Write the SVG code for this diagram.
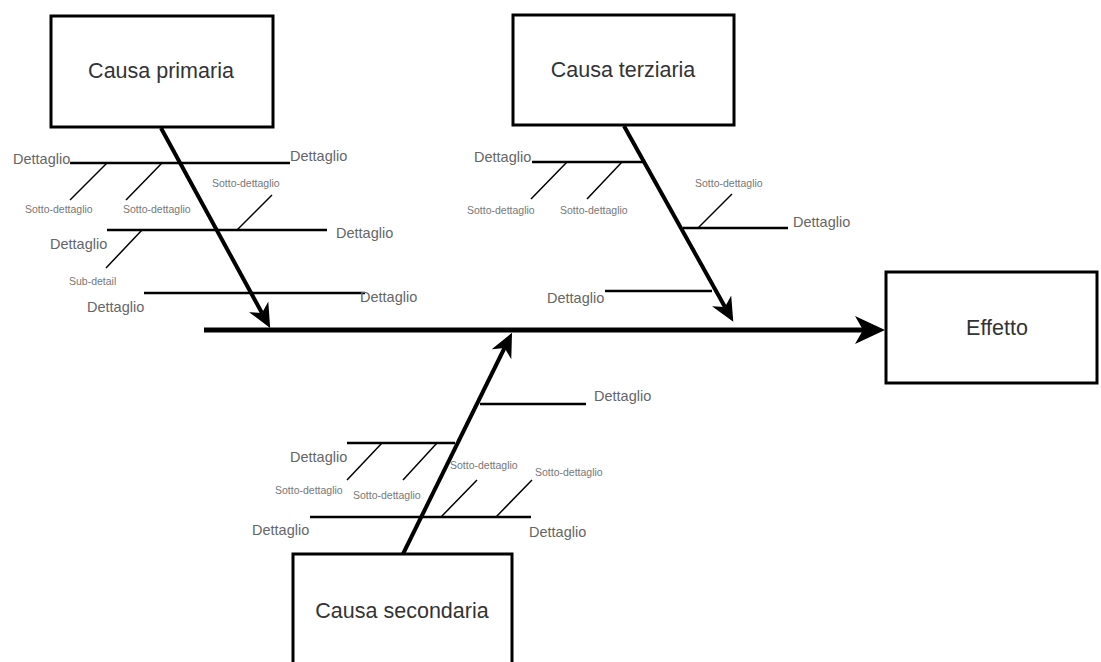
<svg xmlns="http://www.w3.org/2000/svg" width="1101" height="662" viewBox="0 0 1101 662">
<style>
.box{fill:#fff;stroke:#000;stroke-width:3}
.bt{font-family:"Liberation Sans",Arial,sans-serif;font-size:21.5px;fill:#333;text-anchor:middle}
.d{font-family:"Liberation Sans",Arial,sans-serif;font-size:14.5px;fill:#666}
.s{font-family:"Liberation Sans",Arial,sans-serif;font-size:10.5px;fill:#777}
.spine{stroke:#000;stroke-width:5;fill:none}
.bone{stroke:#000;stroke-width:4;fill:none}
.det{stroke:#000;stroke-width:2.5;fill:none}
.sub{stroke:#000;stroke-width:1.5;fill:none}
</style>
<defs>
<marker id="big" markerUnits="userSpaceOnUse" markerWidth="32" markerHeight="30" refX="8" refY="14" orient="auto" viewBox="0 0 32 30">
<path d="M0,0 L30,14 L0,28 L8,14 Z" fill="#000"/>
</marker>
<marker id="small" markerUnits="userSpaceOnUse" markerWidth="26" markerHeight="24" refX="7" refY="11" orient="auto" viewBox="0 0 26 24">
<path d="M0,0 L24,11 L0,22 L7,11 Z" fill="#000"/>
</marker>
</defs>

<g id="connectors">
<line class="spine" x1="204" y1="330" x2="863" y2="330" marker-end="url(#big)"/>
<line class="bone" x1="161" y1="128" x2="262" y2="313" marker-end="url(#small)"/>
<line class="bone" x1="624" y1="126" x2="725" y2="307" marker-end="url(#small)"/>
<line class="bone" x1="402" y1="556" x2="504.5" y2="348" marker-end="url(#small)"/>

<!-- primary details -->
<line class="det" x1="70" y1="163" x2="290" y2="163"/>
<line class="sub" x1="107" y1="163" x2="70" y2="200"/>
<line class="sub" x1="162" y1="163" x2="126" y2="200"/>
<line class="det" x1="107" y1="230" x2="327" y2="230"/>
<line class="sub" x1="237" y1="230" x2="272" y2="195"/>
<line class="sub" x1="142" y1="230" x2="106" y2="268"/>
<line class="det" x1="144" y1="293" x2="365" y2="293"/>

<!-- tertiary details -->
<line class="det" x1="532" y1="162" x2="644" y2="162"/>
<line class="sub" x1="567" y1="162" x2="531" y2="199"/>
<line class="sub" x1="622" y1="162" x2="587" y2="199"/>
<line class="det" x1="683" y1="228" x2="788" y2="228"/>
<line class="sub" x1="698" y1="228" x2="732" y2="194"/>
<line class="det" x1="605" y1="291" x2="712" y2="291"/>

<!-- secondary details -->
<line class="det" x1="480" y1="404" x2="586" y2="404"/>
<line class="det" x1="347" y1="443" x2="455" y2="443"/>
<line class="sub" x1="382" y1="443" x2="347" y2="480"/>
<line class="sub" x1="437" y1="443" x2="403" y2="480"/>
<line class="det" x1="310" y1="517" x2="531" y2="517"/>
<line class="sub" x1="441" y1="517" x2="477" y2="480"/>
<line class="sub" x1="496" y1="517" x2="532" y2="480"/>
</g>

<g id="causa-primaria">
<rect class="box" x="51" y="16" width="222" height="111"/>
<text class="bt" x="161" y="78">Causa primaria</text>
</g>
<g id="causa-terziaria">
<rect class="box" x="513" y="15" width="221" height="110"/>
<text class="bt" x="623" y="77">Causa terziaria</text>
</g>
<g id="causa-secondaria">
<rect class="box" x="293" y="554" width="219" height="115"/>
<text class="bt" x="402" y="618">Causa secondaria</text>
</g>
<g id="effetto">
<rect class="box" x="886" y="272" width="211" height="111"/>
<text class="bt" x="997" y="335">Effetto</text>
</g>

<g id="labels-primaria">
<text class="d" x="13" y="164">Dettaglio</text>
<text class="d" x="290" y="161">Dettaglio</text>
<text class="s" x="25" y="213">Sotto-dettaglio</text>
<text class="s" x="123" y="213">Sotto-dettaglio</text>
<text class="s" x="212" y="187">Sotto-dettaglio</text>
<text class="d" x="336" y="238">Dettaglio</text>
<text class="d" x="50" y="249">Dettaglio</text>
<text class="s" x="69" y="285">Sub-detail</text>
<text class="d" x="360" y="302">Dettaglio</text>
<text class="d" x="87" y="312">Dettaglio</text>
</g>
<g id="labels-terziaria">
<text class="d" x="474" y="162">Dettaglio</text>
<text class="s" x="467" y="214">Sotto-dettaglio</text>
<text class="s" x="560" y="214">Sotto-dettaglio</text>
<text class="s" x="695" y="187">Sotto-dettaglio</text>
<text class="d" x="793" y="227">Dettaglio</text>
<text class="d" x="547" y="303">Dettaglio</text>
</g>
<g id="labels-secondaria">
<text class="d" x="594" y="401">Dettaglio</text>
<text class="d" x="290" y="462">Dettaglio</text>
<text class="s" x="275" y="494">Sotto-dettaglio</text>
<text class="s" x="353" y="499">Sotto-dettaglio</text>
<text class="s" x="450" y="469">Sotto-dettaglio</text>
<text class="s" x="535" y="476">Sotto-dettaglio</text>
<text class="d" x="252" y="535">Dettaglio</text>
<text class="d" x="529" y="537">Dettaglio</text>
</g>
</svg>
